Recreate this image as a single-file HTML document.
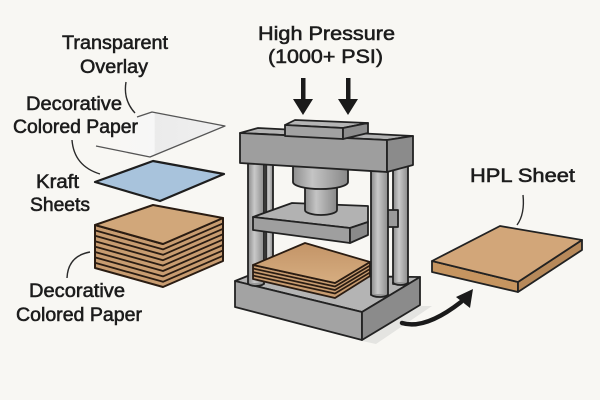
<!DOCTYPE html>
<html><head><meta charset="utf-8"><style>
html,body{margin:0;padding:0;background:#f8f7f3;}
svg{display:block;}
text{font-family:"Liberation Sans",Arial,sans-serif;font-size:19px;fill:#1c1c1c;stroke:#1c1c1c;stroke-width:0.55px;}
</style></head><body>
<svg width="600" height="400" viewBox="0 0 600 400" xmlns="http://www.w3.org/2000/svg">
<defs>
<linearGradient id="col" x1="0" x2="1" y1="0" y2="0">
<stop offset="0" stop-color="#8a8a8a"/><stop offset="0.4" stop-color="#c9c9c9"/><stop offset="1" stop-color="#8c8c8c"/>
</linearGradient>
<linearGradient id="cyl" x1="0" x2="1" y1="0" y2="0">
<stop offset="0" stop-color="#8e8e8e"/><stop offset="0.35" stop-color="#c4c4c4"/><stop offset="1" stop-color="#888"/>
</linearGradient>
<linearGradient id="ov" x1="0" x2="1" y1="0" y2="0">
<stop offset="0" stop-color="#f8f7f3"/><stop offset="0.45" stop-color="#f7f7f7"/><stop offset="0.46" stop-color="#ebebeb"/><stop offset="1" stop-color="#f0f0f0"/>
</linearGradient>
<linearGradient id="tan" x1="0" x2="0" y1="0" y2="1">
<stop offset="0" stop-color="#c39467"/><stop offset="1" stop-color="#d6ad80"/>
</linearGradient>
</defs>
<rect width="600" height="400" fill="#f8f7f3"/>

<!-- transparent overlay -->
<polygon points="96,146 137,117 152,112 225,126 150,157" fill="url(#ov)"/>
<polyline points="137,117 152,112 225,126 150,157 96,146" fill="none" stroke="#555" stroke-width="1.3" stroke-linejoin="round"/>

<!-- callout lines -->
<g fill="none" stroke="#2a2a2a" stroke-width="1.4">
<path d="M126,82 Q123,100 135,113"/>
<path d="M72,140 Q74,166 100,174"/>
<path d="M90,252 Q68,256 67,278"/>
<path d="M523,195 Q525,214 517,225"/>
</g>

<!-- kraft blue -->
<polygon points="95,182 153,161 224,174 160,201" fill="#a8c3dc" stroke="#1e1e1e" stroke-width="2.2" stroke-linejoin="round"/>

<!-- left stack -->
<g stroke-linejoin="round">
<polygon points="95,225 163,244 223,218 223,261 163,287 95,268" fill="#c89c70" stroke="#2a1c12" stroke-width="2"/>
<g fill="none" stroke="#2a1c12" stroke-width="1.8">
<polyline points="95,230.4 163,249.4 223,223.4"/>
<polyline points="95,235.8 163,254.8 223,228.8"/>
<polyline points="95,241.2 163,260.2 223,234.2"/>
<polyline points="95,246.6 163,265.6 223,239.6"/>
<polyline points="95,252 163,271 223,245"/>
<polyline points="95,257.4 163,276.4 223,250.4"/>
<polyline points="95,262.8 163,281.8 223,255.8"/>
</g>
<polygon points="95,225 153,205 223,218 163,244" fill="#d1a77a" stroke="#2a1c12" stroke-width="2"/>
</g>

<!-- pressure arrows -->
<g fill="#1a1a1a">
<rect x="301" y="78" width="4.5" height="24"/>
<polygon points="293,99 313,99 303,115"/>
<rect x="346" y="78" width="4.5" height="24"/>
<polygon points="338,99 358,99 348,115"/>
</g>

<!-- press -->
<g stroke="#222" stroke-width="1.8" stroke-linejoin="round">
<!-- base shadow -->
<polygon points="362,341 420,306 432,306 376,344" fill="#e4e4e1" stroke="none"/>
<!-- base -->
<polygon points="235,281 250,275 420,277 362,312" fill="#b4b4b4"/>
<polygon points="235,281 362,312 362,340 235,307" fill="#a3a3a3"/>
<polygon points="362,312 420,277 420,305 362,340" fill="#8b8b8b"/>
<!-- back columns -->
<rect x="266" y="160" width="7" height="120" fill="url(#col)"/>
<rect x="393" y="160" width="15" height="124" fill="url(#col)"/>
<path d="M393,282 a7.5,3 0 0 0 15,0" fill="#999"/>
<!-- left front column -->
<rect x="248" y="160" width="16" height="124" fill="url(#col)"/>
<path d="M248,283 a8,3 0 0 0 16,0" fill="#999"/>
<!-- tab -->
<rect x="387" y="210" width="11" height="17" fill="#9a9a9a"/>
<!-- platen -->
<polygon points="253,217 292,203 368,206 368,222 350,228" fill="#b2b2b2"/>
<polygon points="253,217 350,228 350,243 253,230" fill="#9f9f9f"/>
<polygon points="350,228 368,222 368,235 350,243" fill="#8a8a8a"/>
<!-- lower stack -->
<polygon points="253,265 335,283 370,262 370,276 335,298 253,279" fill="#c89c70" stroke="#2a1c12"/>
<g fill="none" stroke="#2a1c12" stroke-width="1.7">
<polyline points="253,268.5 335,286.5 370,265.5"/>
<polyline points="253,272 335,290 370,269"/>
<polyline points="253,275.5 335,293.5 370,272.5"/>
</g>
<polygon points="253,265 305,243 370,262 335,283" fill="url(#tan)" stroke="#2a1c12"/>
<!-- right front column -->
<rect x="371" y="165" width="17" height="130" fill="url(#col)"/>
<path d="M371,294 a8.5,3 0 0 0 17,0" fill="#999"/>
<!-- cylinder -->
<path d="M305,180 L305,210 A16,5 0 0 0 337,210 L337,180 Z" fill="url(#cyl)"/>
<path d="M293,165 L293,182 A27.5,7 0 0 0 348,182 L348,165 Z" fill="url(#cyl)"/>
<!-- beam -->
<polygon points="240,133 258,128 413,136 387,140" fill="#b3b3b3"/>
<polygon points="240,133 387,140 387,172 240,163" fill="#9e9e9e"/>
<polygon points="387,140 413,136 413,165 387,172" fill="#8b8b8b"/>
<!-- top block -->
<polygon points="285,125 295,120 368,123 343,128" fill="#b5b5b5"/>
<polygon points="285,125 343,128 343,139 285,136" fill="#a2a2a2"/>
<polygon points="343,128 368,123 368,133 343,139" fill="#8d8d8d"/>
</g>

<!-- curved arrow -->
<path d="M402,323 Q425,330 461,302" fill="none" stroke="#1a1a1a" stroke-width="4.5" stroke-linecap="round"/>
<polygon points="473,289 470,308 456,297" fill="#1a1a1a"/>

<!-- HPL sheet -->
<g stroke="#222" stroke-width="1.8" stroke-linejoin="round">
<polygon points="432,261 518,282 518,292 432,272" fill="#c69560"/>
<polygon points="518,282 582,240 582,250 518,292" fill="#b7895a"/>
<polygon points="432,261 500,226 582,240 518,282" fill="#d2a679"/>
</g>

<!-- labels -->
<text x="115" y="49" text-anchor="middle" textLength="106" lengthAdjust="spacingAndGlyphs">Transparent</text>
<text x="114" y="73" text-anchor="middle" textLength="68" lengthAdjust="spacingAndGlyphs">Overlay</text>
<text x="74" y="110" text-anchor="middle" textLength="96" lengthAdjust="spacingAndGlyphs">Decorative</text>
<text x="75.5" y="133" text-anchor="middle" textLength="125" lengthAdjust="spacingAndGlyphs">Colored Paper</text>
<text x="57.5" y="188" text-anchor="middle" textLength="43" lengthAdjust="spacingAndGlyphs">Kraft</text>
<text x="60" y="211" text-anchor="middle" textLength="60" lengthAdjust="spacingAndGlyphs">Sheets</text>
<text x="77" y="297" text-anchor="middle" textLength="96" lengthAdjust="spacingAndGlyphs">Decorative</text>
<text x="79" y="321" text-anchor="middle" textLength="126" lengthAdjust="spacingAndGlyphs">Colored Paper</text>
<text x="326.5" y="40" text-anchor="middle" textLength="137" lengthAdjust="spacingAndGlyphs">High Pressure</text>
<text x="325.5" y="63" text-anchor="middle" textLength="115" lengthAdjust="spacingAndGlyphs">(1000+ PSI)</text>
<text x="522.5" y="182" text-anchor="middle" textLength="105" lengthAdjust="spacingAndGlyphs">HPL Sheet</text>
</svg>
</body></html>
